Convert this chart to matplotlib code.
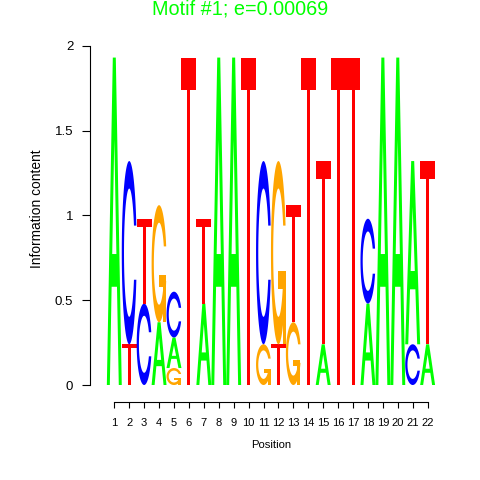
import numpy as np
import matplotlib
matplotlib.use("Agg")
import matplotlib.pyplot as plt
from matplotlib.path import Path
from matplotlib.patches import PathPatch

plt.rcParams['font.family'] = ['Liberation Sans', 'DejaVu Sans']

# ---- data ----
positions = list(range(1, 23))
A = [1.93, 0, 0, 0.37, 0.18, 0, 0.48, 1.93, 1.93, 0, 0, 0, 0, 0, 0.24, 0, 0, 0.48, 1.93, 1.93, 1.08, 0.24]
C = [0, 1.08, 0.48, 0, 0.27, 0, 0, 0, 0, 0, 1.08, 0, 0, 0, 0, 0, 0, 0.50, 0, 0, 0.24, 0]
G = [0, 0, 0, 0.69, 0.10, 0, 0, 0, 0, 0, 0.24, 1.08, 0.37, 0, 0, 0, 0, 0, 0, 0, 0, 0]
T = [0, 0.24, 0.50, 0, 0, 1.93, 0.50, 0, 0, 1.93, 0, 0.24, 0.69, 1.93, 1.08, 1.93, 1.93, 0, 0, 0, 0, 1.08]
y_ticks = [0, 0.5, 1, 1.5, 2]
y_tick_labels = ["0", "0.5", "1", "1.5", "2"]
title = "Motif #1; e=0.00069"
x_label = "Position"
y_label = "Information content"

heights = {"A": A, "C": C, "G": G, "T": T}
colors = {"A": "#00FF00", "C": "#0000FF", "G": "#FFA500", "T": "#FF0000"}


# ---- glyphs (unit box); each glyph is a list of separately filled shapes ----
def glyph_A():
    outer = np.array([[0, 0], [4, 10], [6, 10], [10, 0], [8, 0], [6.8, 3], [3.2, 3], [2, 0]]) * 0.1
    inner = np.array([[3.6, 4], [5, 7.5], [6.4, 4]]) * 0.1
    return [[outer, inner[::-1]]]


def ring():
    a1 = np.linspace(0.3 + np.pi / 2, np.pi, 100)
    a2 = np.linspace(np.pi, 1.5 * np.pi, 100)
    xl1 = 0.5 + 0.5 * np.sin(a1); yl1 = 0.5 + 0.5 * np.cos(a1)
    xl2 = 0.5 + 0.5 * np.sin(a2); yl2 = 0.5 + 0.5 * np.cos(a2)
    xl = np.concatenate([xl1, xl2]); yl = np.concatenate([yl1, yl2])
    x = np.concatenate([xl, xl[::-1]]); y = np.concatenate([yl, 1 - yl[::-1]])
    xi1 = 0.5 + 0.35 * np.sin(a1); yi1 = 0.5 + 0.35 * np.cos(a1)
    m = yi1 <= yl1.max()
    xi1 = xi1[m]; yi1 = yi1[m].copy(); yi1[0] = yl1.max()
    xi2 = 0.5 + 0.35 * np.sin(a2); yi2 = 0.5 + 0.35 * np.cos(a2)
    xi = np.concatenate([xi1, xi2]); yi = np.concatenate([yi1, yi2])
    x1 = np.concatenate([xi, xi[::-1]]); y1 = np.concatenate([yi, 1 - yi[::-1]])
    x = np.concatenate([x, x1[::-1]]); y = np.concatenate([y, y1[::-1]])
    return np.column_stack([x, y]), xl1.max()


def glyph_C():
    poly, _ = ring()
    return [[poly]]


def glyph_G():
    poly, r1 = ring()
    h1 = 0.4
    add = np.array([[r1, h1], [0.5, h1], [0.5, h1 - 0.1], [r1 - 0.2, h1 - 0.1],
                    [r1 - 0.2, 0], [r1, 0]])
    return [[poly], [add]]


def glyph_T():
    return [[np.array([[0, 1], [1, 1], [1, 0.9], [0.6, 0.9], [0.6, 0], [0.4, 0], [0.4, 0.9], [0, 0.9]])]]


glyphs = {"A": glyph_A(), "C": glyph_C(), "G": glyph_G(), "T": glyph_T()}


def make_path(polys, x0, y0, w, h):
    verts, codes = [], []
    for p in polys:
        pts = np.column_stack([x0 + w * p[:, 0], y0 + h * p[:, 1]])
        verts.extend(pts.tolist()); verts.append(pts[0].tolist())
        codes.extend([Path.MOVETO] + [Path.LINETO] * (len(pts) - 1) + [Path.CLOSEPOLY])
    return Path(verts, codes)


# ---- figure ----
fig = plt.figure(figsize=(4.8, 4.8), dpi=100)
ax = fig.add_axes([90 / 480, 95 / 480, 360 / 480, 339.3 / 480])
ax.set_xlim(-0.629, 23.5)
ax.set_ylim(0, 2)

for i, p in enumerate(positions):
    stack = sorted([(heights[l][i], l) for l in "ACGT" if heights[l][i] > 0])
    base = 0.0
    for h, l in stack:
        for shape in glyphs[l]:
            path = make_path(shape, p - 0.5, base, 1.0, h)
            ax.add_patch(PathPatch(path, facecolor=colors[l], edgecolor='none', lw=0))
        base += h

for s in ["top", "right"]:
    ax.spines[s].set_visible(False)
ax.spines["left"].set_bounds(0, 2)
ax.spines["left"].set_linewidth(0.8)
ax.spines["bottom"].set_position(("outward", 12))
ax.spines["bottom"].set_bounds(1, 22)
ax.spines["bottom"].set_linewidth(0.8)

ax.set_yticks(y_ticks)
ax.set_yticklabels(y_tick_labels)
ax.set_xticks(positions)
ax.set_xticklabels([str(p) for p in positions])
ax.tick_params(axis="y", direction="out", length=6, width=0.8, pad=6, labelsize=9.5)
ax.tick_params(axis="x", direction="out", length=4.3, width=0.8, pad=7.5, labelsize=8)

fig.text(37 / 480, 1 - 209 / 480, y_label, rotation=90, ha="center", va="center", fontsize=9.9)
fig.text(271.5 / 480, 1 - 445.5 / 480, x_label, ha="center", va="center", fontsize=8.1)
fig.text(0.5, 1 - 9 / 480, title, ha="center", va="center", fontsize=14.3, color="#00FF00")

fig.savefig("out.png", dpi=100)
